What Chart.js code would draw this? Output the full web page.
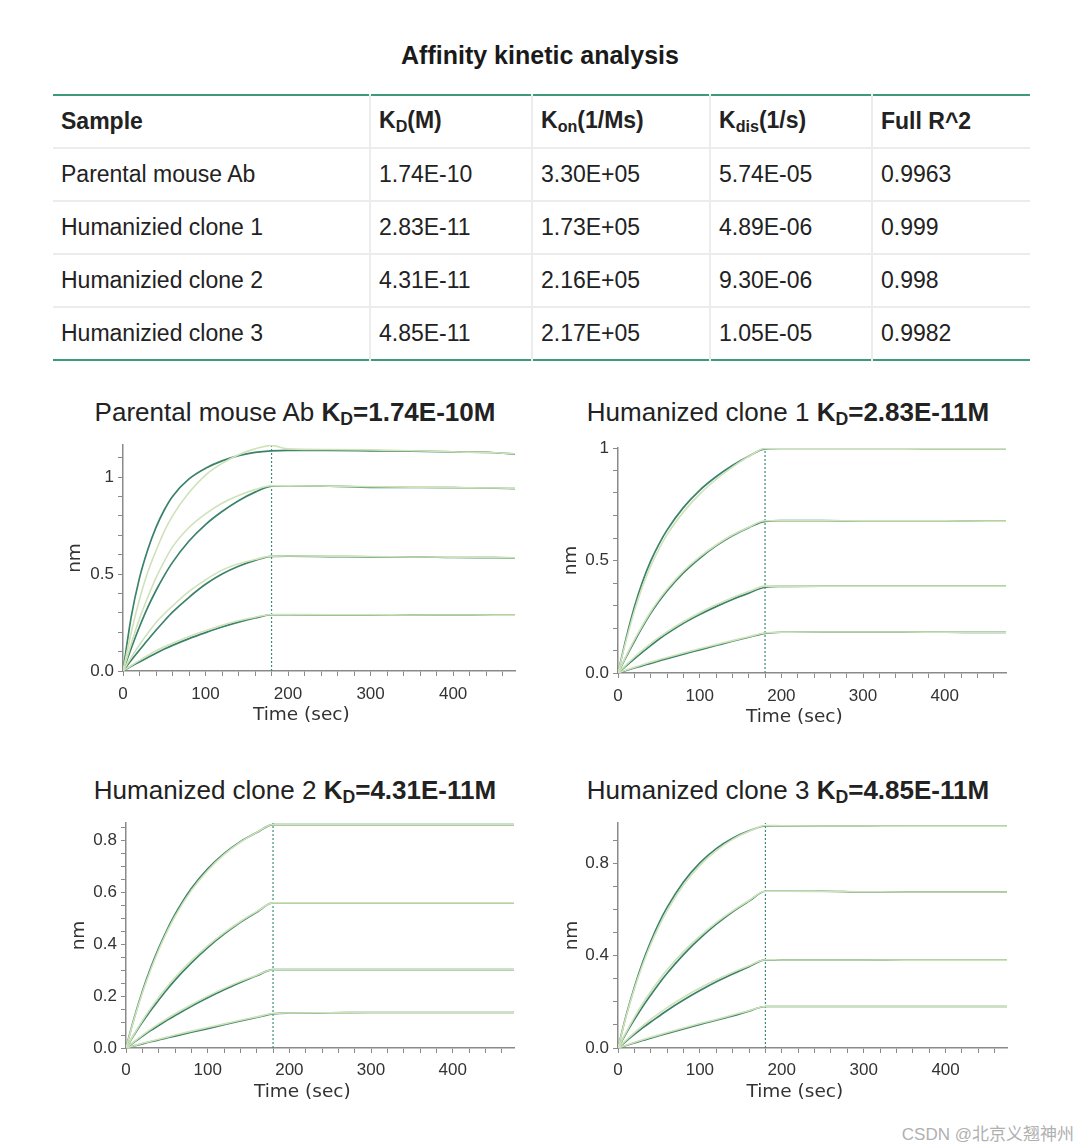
<!DOCTYPE html>
<html>
<head>
<meta charset="utf-8">
<script src="https://cdn.jsdelivr.net/npm/chart.js@4.4.1/dist/chart.umd.min.js"></script>
<style>
  body { margin: 0; background: #fff; font-family: "Liberation Sans", Arial, sans-serif; color: #222; }
  #page { position: relative; width: 1080px; height: 1148px; overflow: hidden; }
  #mainTitle { position: absolute; left: 0; width: 1080px; top: 41px; text-align: center; font-weight: bold; font-size: 25px; color: #1a1a1a; }
  table { position: absolute; left: 53px; top: 94px; width: 977px; table-layout: fixed; border-collapse: collapse; font-size: 23px; color: #222; }
  table { border-top: 2px solid #3d9a7c; border-bottom: 2px solid #3d9a7c; }
  td, th { height: 51px; padding: 0 8px; text-align: left; border-right: 2px solid #ececec; border-bottom: 2px solid #ececec; white-space: nowrap; }
  td:last-child, th:last-child { border-right: none; }
  tr:last-child td { border-bottom: none; }
  th { font-weight: bold; }
  sub { font-size: 0.7em; vertical-align: -0.25em; }
  .ctitle { position: absolute; font-size: 26px; color: #222; white-space: nowrap; text-align: center; }
  .ctitle b sub { font-size: 0.68em; }
  .box { position: absolute; width: 470px; height: 300px; }
  #credit { position: absolute; right: 6px; top: 1120px; font-size: 17px; color: #b0b0b0; font-family: "Liberation Sans", "Noto Sans CJK SC", sans-serif; }
</style>
</head>
<body>
<div id="page">
  <div id="mainTitle">Affinity kinetic analysis</div>
  <table id="kinTable"></table>

  <div class="ctitle" style="left:60px;width:470px;top:397px;">Parental mouse Ab <b>K<sub>D</sub>=1.74E-10M</b></div>
  <div class="ctitle" style="left:553px;width:470px;top:397px;">Humanized clone 1 <b>K<sub>D</sub>=2.83E-11M</b></div>
  <div class="ctitle" style="left:60px;width:470px;top:775px;">Humanized clone 2 <b>K<sub>D</sub>=4.31E-11M</b></div>
  <div class="ctitle" style="left:553px;width:470px;top:775px;">Humanized clone 3 <b>K<sub>D</sub>=4.85E-11M</b></div>

  <div class="box" style="left:60px;top:430px;"><canvas id="c1"></canvas></div>
  <div class="box" style="left:556px;top:432px;"><canvas id="c2"></canvas></div>
  <div class="box" style="left:64px;top:808px;"><canvas id="c3"></canvas></div>
  <div class="box" style="left:557px;top:808px;"><canvas id="c4"></canvas></div>

  <div id="credit">CSDN @北京义翘神州</div>
</div>

<script>
// ---- table data ----
const sampleNames = ['Parental mouse Ab', 'Humanizied clone 1', 'Humanizied clone 2', 'Humanizied clone 3'];
const kdValues = ['1.74E-10', '2.83E-11', '4.31E-11', '4.85E-11'];
const konValues = ['3.30E+05', '1.73E+05', '2.16E+05', '2.17E+05'];
const kdisValues = ['5.74E-05', '4.89E-06', '9.30E-06', '1.05E-05'];
const r2Values = ['0.9963', '0.999', '0.998', '0.9982'];

// ---- sensorgram data (time in sec, response in nm) ----
const times = [0, 10, 20, 30, 40, 50, 60, 80, 100, 120, 140, 160, 180, 200, 250, 300, 350, 400, 450, 475];
const dissocStart = 180;

const parentalMeasured = [
  [0, 0.28, 0.48, 0.625, 0.74, 0.83, 0.90, 0.99, 1.045, 1.083, 1.11, 1.127, 1.135, 1.137, 1.137, 1.135, 1.133, 1.13, 1.125, 1.118],
  [0, 0.118, 0.228, 0.328, 0.415, 0.492, 0.56, 0.67, 0.755, 0.822, 0.878, 0.922, 0.953, 0.955, 0.953, 0.947, 0.946, 0.945, 0.942, 0.94],
  [0, 0.055, 0.108, 0.16, 0.21, 0.258, 0.303, 0.38, 0.447, 0.50, 0.54, 0.57, 0.591, 0.592, 0.59, 0.588, 0.588, 0.585, 0.584, 0.583],
  [0, 0.024, 0.047, 0.07, 0.092, 0.113, 0.132, 0.167, 0.198, 0.227, 0.252, 0.273, 0.29, 0.29, 0.289, 0.289, 0.289, 0.288, 0.288, 0.288]
];
const parentalFit = [
  [0, 0.20, 0.37, 0.51, 0.62, 0.72, 0.80, 0.92, 1.01, 1.07, 1.115, 1.145, 1.163, 1.145, 1.142, 1.14, 1.135, 1.13, 1.125, 1.12],
  [0, 0.14, 0.27, 0.38, 0.48, 0.565, 0.64, 0.74, 0.81, 0.865, 0.905, 0.935, 0.955, 0.955, 0.953, 0.95, 0.948, 0.945, 0.943, 0.941],
  [0, 0.07, 0.135, 0.195, 0.25, 0.295, 0.335, 0.41, 0.47, 0.52, 0.553, 0.575, 0.592, 0.593, 0.592, 0.59, 0.588, 0.586, 0.585, 0.584],
  [0, 0.028, 0.055, 0.08, 0.104, 0.125, 0.143, 0.178, 0.208, 0.236, 0.259, 0.277, 0.291, 0.291, 0.29, 0.29, 0.289, 0.289, 0.288, 0.288]
];

const clone1Measured = [
  [0, 0.155, 0.292, 0.405, 0.497, 0.572, 0.635, 0.735, 0.812, 0.872, 0.922, 0.963, 0.996, 0.998, 0.998, 0.998, 0.998, 0.997, 0.997, 0.997],
  [0, 0.072, 0.14, 0.205, 0.265, 0.318, 0.365, 0.445, 0.51, 0.565, 0.61, 0.646, 0.674, 0.677, 0.677, 0.676, 0.676, 0.676, 0.675, 0.675],
  [0, 0.032, 0.063, 0.093, 0.122, 0.15, 0.175, 0.221, 0.26, 0.295, 0.327, 0.355, 0.381, 0.385, 0.386, 0.386, 0.386, 0.386, 0.386, 0.386],
  [0, 0.011, 0.022, 0.033, 0.043, 0.054, 0.064, 0.084, 0.103, 0.122, 0.141, 0.159, 0.176, 0.181, 0.182, 0.182, 0.182, 0.181, 0.181, 0.181]
];
const clone1Fit = [
  [0, 0.145, 0.275, 0.385, 0.475, 0.55, 0.615, 0.715, 0.795, 0.86, 0.915, 0.962, 0.998, 0.998, 0.998, 0.998, 0.997, 0.997, 0.997, 0.997],
  [0, 0.076, 0.147, 0.212, 0.272, 0.325, 0.372, 0.452, 0.516, 0.569, 0.613, 0.648, 0.677, 0.677, 0.677, 0.676, 0.676, 0.676, 0.675, 0.675],
  [0, 0.036, 0.07, 0.102, 0.131, 0.158, 0.183, 0.228, 0.268, 0.303, 0.335, 0.362, 0.386, 0.386, 0.386, 0.386, 0.386, 0.386, 0.386, 0.386],
  [0, 0.013, 0.025, 0.037, 0.048, 0.059, 0.069, 0.089, 0.108, 0.126, 0.144, 0.161, 0.178, 0.181, 0.182, 0.182, 0.182, 0.181, 0.181, 0.181]
];

const clone2Measured = [
  [0, 0.116, 0.218, 0.307, 0.385, 0.454, 0.515, 0.615, 0.691, 0.75, 0.796, 0.831, 0.862, 0.862, 0.862, 0.862, 0.862, 0.862, 0.862, 0.862],
  [0, 0.051, 0.099, 0.144, 0.185, 0.225, 0.262, 0.328, 0.387, 0.439, 0.485, 0.524, 0.56, 0.56, 0.56, 0.56, 0.56, 0.56, 0.56, 0.56],
  [0, 0.023, 0.045, 0.067, 0.087, 0.107, 0.125, 0.161, 0.194, 0.225, 0.253, 0.279, 0.302, 0.302, 0.302, 0.302, 0.302, 0.302, 0.302, 0.302],
  [0, 0.008, 0.016, 0.024, 0.031, 0.039, 0.046, 0.061, 0.075, 0.09, 0.104, 0.118, 0.132, 0.135, 0.136, 0.137, 0.137, 0.137, 0.137, 0.137]
];
const clone2Fit = [
  [0, 0.112, 0.212, 0.3, 0.378, 0.447, 0.508, 0.608, 0.685, 0.746, 0.794, 0.832, 0.862, 0.862, 0.862, 0.862, 0.862, 0.862, 0.862, 0.862],
  [0, 0.054, 0.105, 0.152, 0.195, 0.235, 0.272, 0.337, 0.394, 0.444, 0.488, 0.526, 0.56, 0.56, 0.56, 0.56, 0.56, 0.56, 0.56, 0.56],
  [0, 0.025, 0.049, 0.072, 0.093, 0.113, 0.132, 0.167, 0.2, 0.23, 0.257, 0.281, 0.302, 0.302, 0.302, 0.302, 0.302, 0.302, 0.302, 0.302],
  [0, 0.009, 0.018, 0.026, 0.034, 0.042, 0.05, 0.065, 0.079, 0.093, 0.107, 0.12, 0.133, 0.135, 0.136, 0.137, 0.137, 0.137, 0.137, 0.137]
];

const clone3Measured = [
  [0, 0.142, 0.264, 0.371, 0.462, 0.542, 0.61, 0.72, 0.803, 0.865, 0.91, 0.942, 0.963, 0.963, 0.963, 0.963, 0.962, 0.962, 0.962, 0.962],
  [0, 0.064, 0.123, 0.179, 0.23, 0.279, 0.324, 0.405, 0.475, 0.537, 0.591, 0.637, 0.68, 0.68, 0.68, 0.677, 0.677, 0.677, 0.677, 0.677],
  [0, 0.03, 0.059, 0.087, 0.113, 0.138, 0.163, 0.208, 0.249, 0.287, 0.321, 0.353, 0.382, 0.382, 0.382, 0.382, 0.381, 0.381, 0.381, 0.381],
  [0, 0.011, 0.022, 0.033, 0.043, 0.053, 0.063, 0.083, 0.102, 0.121, 0.139, 0.16, 0.18, 0.18, 0.18, 0.18, 0.18, 0.18, 0.18, 0.18]
];
const clone3Fit = [
  [0, 0.138, 0.257, 0.36, 0.45, 0.528, 0.596, 0.707, 0.792, 0.856, 0.905, 0.94, 0.965, 0.964, 0.963, 0.963, 0.962, 0.962, 0.962, 0.962],
  [0, 0.069, 0.133, 0.192, 0.245, 0.294, 0.339, 0.418, 0.485, 0.544, 0.595, 0.64, 0.68, 0.68, 0.679, 0.678, 0.677, 0.677, 0.677, 0.677],
  [0, 0.034, 0.066, 0.096, 0.124, 0.15, 0.175, 0.22, 0.26, 0.296, 0.328, 0.357, 0.383, 0.382, 0.382, 0.382, 0.381, 0.381, 0.381, 0.381],
  [0, 0.012, 0.024, 0.036, 0.047, 0.057, 0.067, 0.087, 0.106, 0.124, 0.143, 0.162, 0.18, 0.18, 0.18, 0.18, 0.18, 0.18, 0.18, 0.18]
];

// axis ranges and ticks
const xMax = 475;
const xTicks = [0, 20, 40, 60, 80, 100, 120, 140, 160, 180, 200, 220, 240, 260, 280, 300, 320, 340, 360, 380, 400, 420, 440, 460];
const xLabels = { 0: '0', 100: '100', 200: '200', 300: '300', 400: '400' };
const yMaxes = [1.165, 1.0, 0.868, 0.976];
const yTicks1 = [0, 0.1, 0.2, 0.3, 0.4, 0.5, 0.6, 0.7, 0.8, 0.9, 1.0, 1.1];
const yTicks2 = [0, 0.1, 0.2, 0.3, 0.4, 0.5, 0.6, 0.7, 0.8, 0.9, 1.0];
const yTicks3 = [0, 0.05, 0.1, 0.15, 0.2, 0.25, 0.3, 0.35, 0.4, 0.45, 0.5, 0.55, 0.6, 0.65, 0.7, 0.75, 0.8, 0.85];
const yTicks4 = [0, 0.1, 0.2, 0.3, 0.4, 0.5, 0.6, 0.7, 0.8, 0.9];
const yLabels1 = { '0': '0.0', '0.5': '0.5', '1': '1' };
const yLabels3 = { '0': '0.0', '0.2': '0.2', '0.4': '0.4', '0.6': '0.6', '0.8': '0.8' };
const yLabels4 = { '0': '0.0', '0.4': '0.4', '0.8': '0.8' };

// build table
const tbl = document.getElementById('kinTable');
let html = '<colgroup><col style="width:317px"><col style="width:162px"><col style="width:178px"><col style="width:162px"><col></colgroup>';
html += '<tr><th>Sample</th><th>K<sub>D</sub>(M)</th><th>K<sub>on</sub>(1/Ms)</th><th>K<sub>dis</sub>(1/s)</th><th>Full R^2</th></tr>';
sampleNames.forEach((s, i) => {
  html += `<tr><td>${s}</td><td>${kdValues[i]}</td><td>${konValues[i]}</td><td>${kdisValues[i]}</td><td>${r2Values[i]}</td></tr>`;
});
tbl.innerHTML = html;

const DATA_COLOR = '#3a826a';
const FIT_COLOR = '#cfe2b8';
const AXIS_COLOR = '#8a8a8a';
const TICK_FONT = { family: '"Liberation Sans", Arial, sans-serif', size: 17 };
const LABEL_FONT = { family: '"DejaVu Sans", sans-serif', size: 18.5 };
// x label sits a bit left of the axis centre in the original; trailing spaces shift it
const X_TITLE = 'Time (sec)' + '\u00A0'.repeat(6);

function pts(ys) {
  return ys.map((y, i) => ({ x: times[i], y: y }));
}

function makeChart(id, measured, fit, yMax, yTicks, yLabels, box) {
  const datasets = [];
  fit.forEach(f => datasets.push({
    data: pts(f), borderColor: FIT_COLOR, borderWidth: 1.6, pointRadius: 0,
    cubicInterpolationMode: 'monotone'
  }));
  measured.forEach(m => datasets.push({
    data: pts(m), borderColor: DATA_COLOR, borderWidth: 1.7, pointRadius: 0,
    cubicInterpolationMode: 'monotone'
  }));
  datasets.push({
    data: [{ x: dissocStart, y: 0 }, { x: dissocStart, y: yMax }],
    borderColor: '#3d8c7a', borderWidth: 1.2, borderDash: [2, 2], pointRadius: 0
  });

  return new Chart(document.getElementById(id), {
    type: 'line',
    data: { datasets: datasets },
    options: {
      responsive: false,
      animation: false,
      events: [],
      layout: { padding: { top: box.top, right: box.right, left: 0, bottom: 0 } },
      plugins: { legend: { display: false }, tooltip: { enabled: false } },
      scales: {
        x: {
          type: 'linear', min: 0, max: xMax,
          afterBuildTicks: s => { s.ticks = xTicks.map(v => ({ value: v })); },
          afterFit: s => { s.height = box.bottom; },
          border: { color: AXIS_COLOR, width: 1.5 },
          grid: { drawOnChartArea: false, drawTicks: true, tickLength: 5, color: AXIS_COLOR },
          ticks: {
            autoSkip: false, maxRotation: 0, color: '#333', font: TICK_FONT, padding: box.xPad,
            callback: v => (xLabels[v] !== undefined ? xLabels[v] : '')
          },
          title: { display: true, text: X_TITLE, color: '#333', font: LABEL_FONT, padding: { top: 0, bottom: box.titlePad } }
        },
        y: {
          type: 'linear', min: 0, max: yMax,
          afterBuildTicks: s => { s.ticks = yTicks.map(v => ({ value: v })); },
          afterFit: s => { s.width = box.left; },
          border: { color: AXIS_COLOR, width: 1.5 },
          grid: { drawOnChartArea: false, drawTicks: true, tickLength: 5, color: AXIS_COLOR },
          ticks: {
            autoSkip: false, color: '#333', font: TICK_FONT, padding: 4,
            callback: v => {
              const k = String(Math.round(v * 100) / 100);
              return yLabels[k] !== undefined ? yLabels[k] : '';
            }
          },
          title: { display: true, text: 'nm', color: '#333', font: LABEL_FONT, padding: { top: 4, bottom: 0 } }
        }
      }
    }
  });
}

// set canvas pixel sizes
['c1', 'c2', 'c3', 'c4'].forEach(id => {
  const c = document.getElementById(id);
  c.width = 470; c.height = 300;
  c.style.width = '470px'; c.style.height = '300px';
});

// box: left = y-axis width, top/right = padding, bottom = x-axis height
makeChart('c1', parentalMeasured, parentalFit, yMaxes[0], yTicks1, yLabels1, { left: 63, top: 15, right: 15, bottom: 59, xPad: 8, titlePad: 4 });
makeChart('c2', clone1Measured, clone1Fit, yMaxes[1], yTicks2, yLabels1, { left: 62, top: 16, right: 20, bottom: 59, xPad: 8, titlePad: 4 });
makeChart('c3', clone2Measured, clone2Fit, yMaxes[2], yTicks3, yLabels3, { left: 62, top: 15, right: 20, bottom: 60, xPad: 7, titlePad: 5 });
makeChart('c4', clone3Measured, clone3Fit, yMaxes[3], yTicks4, yLabels4, { left: 61, top: 15, right: 20, bottom: 60, xPad: 7, titlePad: 5 });
</script>
</body>
</html>
